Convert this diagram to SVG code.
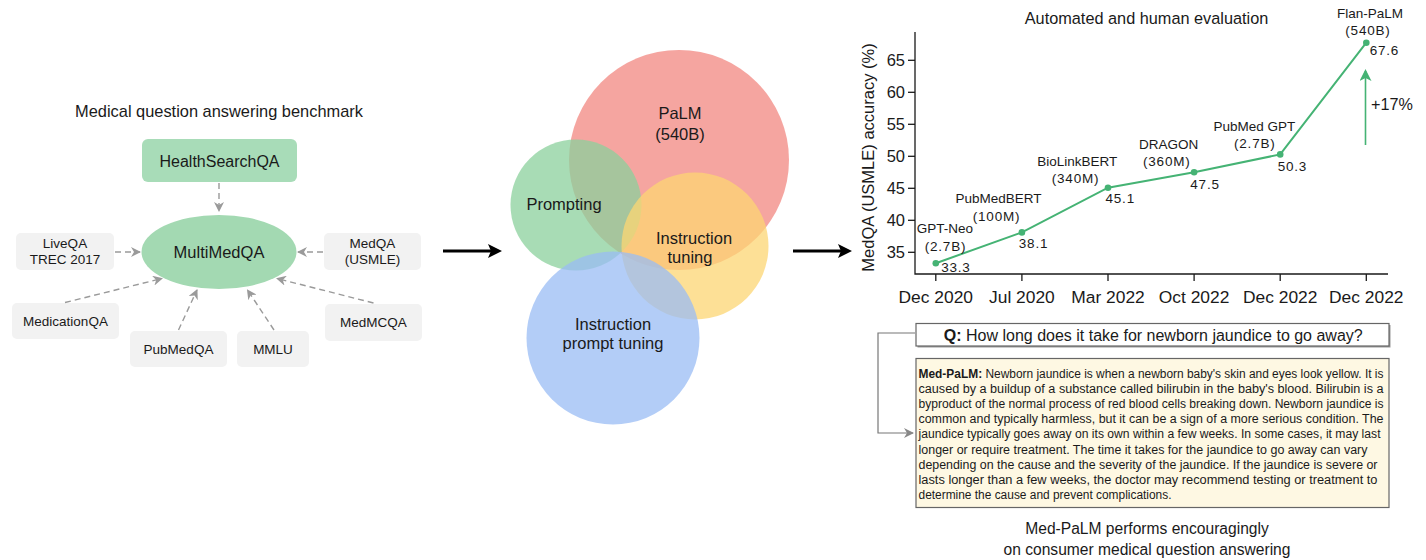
<svg xmlns="http://www.w3.org/2000/svg" width="1426" height="560" viewBox="0 0 1426 560">
<style>
text{font-family:"Liberation Sans",Arial,sans-serif;fill:#1a1a1a}
.gbox{fill:#f2f2f2}
.gl{font-size:13.5px;text-anchor:middle}
.dash{stroke:#9a9a9a;stroke-width:1.4;stroke-dasharray:6 4;fill:none;marker-end:url(#ga)}
.venn{font-size:16.5px;text-anchor:middle}
.ax{stroke:#1a1a1a;stroke-width:1.3;fill:none}
.tl{font-size:16.5px}
.cl{font-size:13.5px;text-anchor:middle}
.num{font-size:13.5px;letter-spacing:0.8px}
.ans{font-size:12px}
</style>
<defs>
<marker id="ga" markerWidth="10" markerHeight="10" refX="9" refY="5" orient="auto" markerUnits="userSpaceOnUse">
<path d="M0,0 L10,5 L0,10 L3,5 z" fill="#9a9a9a"/>
</marker>
<marker id="qa" markerWidth="10" markerHeight="10" refX="9" refY="5" orient="auto" markerUnits="userSpaceOnUse">
<path d="M0,0 L10,5 L0,10 L3,5 z" fill="#888"/>
</marker>
<marker id="gr" markerWidth="12" markerHeight="12" refX="10" refY="6" orient="auto" markerUnits="userSpaceOnUse">
<path d="M0,0 L12,6 L0,12 L3,6 z" fill="#45b374"/>
</marker>
</defs>
<rect width="1426" height="560" fill="#fff"/>

<!-- Left panel -->
<text x="219" y="117" font-size="16.4" text-anchor="middle">Medical question answering benchmark</text>
<g id="healthsearchqa">
<rect x="142" y="139" width="155" height="43" rx="6" fill="#a8dcb8"/>
<text x="219.5" y="166.5" font-size="16" text-anchor="middle">HealthSearchQA</text>
</g>
<g id="multimedqa">
<ellipse cx="219" cy="252" rx="77.5" ry="37" fill="#a3d9b2"/>
<text x="219" y="258" font-size="16.5" text-anchor="middle">MultiMedQA</text>
</g>
<g id="liveqa">
<rect class="gbox" x="16" y="233" width="98" height="37" rx="5"/>
<text class="gl" x="65" y="248">LiveQA</text>
<text class="gl" x="65" y="264">TREC 2017</text>
</g>
<g id="medqa">
<rect class="gbox" x="324" y="233" width="97" height="37" rx="5"/>
<text class="gl" x="372.5" y="248">MedQA</text>
<text class="gl" x="372.5" y="264">(USMLE)</text>
</g>
<g id="medicationqa">
<rect class="gbox" x="12" y="303" width="107" height="36" rx="5"/>
<text class="gl" x="65.5" y="326">MedicationQA</text>
</g>
<g id="pubmedqa">
<rect class="gbox" x="130" y="331" width="97" height="36" rx="5"/>
<text class="gl" x="178.5" y="354">PubMedQA</text>
</g>
<g id="mmlu">
<rect class="gbox" x="237" y="331" width="72" height="36" rx="5"/>
<text class="gl" x="273" y="354">MMLU</text>
</g>
<g id="medmcqa">
<rect class="gbox" x="325" y="304" width="97" height="37" rx="5"/>
<text class="gl" x="373.5" y="327">MedMCQA</text>
</g>
<g id="connectors">
<line class="dash" x1="219" y1="183" x2="219" y2="211"/>
<line class="dash" x1="115" y1="252" x2="140" y2="252"/>
<line class="dash" x1="323" y1="252" x2="298" y2="252"/>
<line class="dash" x1="65" y1="302.5" x2="162" y2="278.5"/>
<line class="dash" x1="178.5" y1="330" x2="197" y2="290"/>
<line class="dash" x1="274" y1="330" x2="247.5" y2="290"/>
<line class="dash" x1="373.5" y1="303" x2="277" y2="278.5"/>
<!-- big arrows -->
<line x1="443" y1="251" x2="492" y2="251" stroke="#000" stroke-width="3"/>
<path d="M488,244 L502,251 L488,258 L491,251 z" fill="#000"/>
<line x1="793" y1="251" x2="842" y2="251" stroke="#000" stroke-width="3"/>
<path d="M838,244 L852,251 L838,258 L841,251 z" fill="#000"/>
<!-- Q to answer -->
<polyline points="915,333 878,333 878,433 913,433" fill="none" stroke="#777" stroke-width="1.2" marker-end="url(#qa)"/>
</g>

<!-- Venn -->
<g id="palm">
<circle cx="679" cy="160" r="110" fill="#f28780" fill-opacity="0.75"/>
</g>
<g id="prompting">
<circle cx="576" cy="205" r="65.5" fill="#8bd09c" fill-opacity="0.75"/>
</g>
<g id="instruction-tuning">
<circle cx="695" cy="246" r="73.5" fill="#fcd673" fill-opacity="0.75"/>
</g>
<g id="instruction-prompt-tuning">
<circle cx="613" cy="338" r="86.5" fill="#9abcf4" fill-opacity="0.75"/>
</g>
<g id="venn-labels">
<text class="venn" x="680" y="119">PaLM</text>
<text class="venn" x="680" y="140">(540B)</text>
<text class="venn" x="564" y="210">Prompting</text>
<text class="venn" x="694" y="243.5">Instruction</text>
<text class="venn" x="690" y="263">tuning</text>
<text class="venn" x="613" y="330">Instruction</text>
<text class="venn" x="613" y="349">prompt tuning</text>
</g>

<!-- Chart -->
<g id="chart">
<text x="1146.5" y="23.5" font-size="16.3" text-anchor="middle">Automated and human evaluation</text>
<text font-size="16.5" transform="translate(874,157.5) rotate(-90)" text-anchor="middle">MedQA (USMLE) accuracy (%)</text>
<polyline class="ax" points="915,32 915,274 1388,274"/>
<g stroke="#1a1a1a" stroke-width="1.3">
<line x1="908" y1="60.3" x2="915" y2="60.3"/>
<line x1="908" y1="92.3" x2="915" y2="92.3"/>
<line x1="908" y1="124.3" x2="915" y2="124.3"/>
<line x1="908" y1="156.3" x2="915" y2="156.3"/>
<line x1="908" y1="188.3" x2="915" y2="188.3"/>
<line x1="908" y1="220.3" x2="915" y2="220.3"/>
<line x1="908" y1="252.3" x2="915" y2="252.3"/>
<line x1="935.8" y1="274" x2="935.8" y2="281"/>
<line x1="1021.9" y1="274" x2="1021.9" y2="281"/>
<line x1="1108" y1="274" x2="1108" y2="281"/>
<line x1="1194.1" y1="274" x2="1194.1" y2="281"/>
<line x1="1280.2" y1="274" x2="1280.2" y2="281"/>
<line x1="1366.3" y1="274" x2="1366.3" y2="281"/>
</g>
<g class="tl" text-anchor="end">
<text x="905" y="66">65</text>
<text x="905" y="98">60</text>
<text x="905" y="130">55</text>
<text x="905" y="162">50</text>
<text x="905" y="194">45</text>
<text x="905" y="226">40</text>
<text x="905" y="258">35</text>
</g>
<g font-size="17.4" text-anchor="middle">
<text x="935.8" y="302.5">Dec 2020</text>
<text x="1021.9" y="302.5">Jul 2020</text>
<text x="1108" y="302.5">Mar 2022</text>
<text x="1194.1" y="302.5">Oct 2022</text>
<text x="1280.2" y="302.5">Dec 2022</text>
<text x="1366.3" y="302.5">Dec 2022</text>
</g>
<polyline points="935.8,263.2 1021.9,232.4 1108,187.7 1194.1,172.3 1280.2,154.4 1366.3,42.7" fill="none" stroke="#45b374" stroke-width="2"/>
<g fill="#45b374">
<circle cx="935.8" cy="263.2" r="3.3"/>
<circle cx="1021.9" cy="232.4" r="3.3"/>
<circle cx="1108" cy="187.7" r="3.3"/>
<circle cx="1194.1" cy="172.3" r="3.3"/>
<circle cx="1280.2" cy="154.4" r="3.3"/>
<circle cx="1366.3" cy="42.7" r="3.3"/>
</g>
<line x1="1365.5" y1="145" x2="1365.5" y2="71" stroke="#45b374" stroke-width="1.6" marker-end="url(#gr)"/>
<text x="1371" y="109.5" font-size="16.2">+17%</text>
<g class="cl">
<text x="945" y="233">GPT-Neo</text>
<text class="num" x="945.5" y="250.5">(2.7B)</text>
<text x="998.4" y="203">PubMedBERT</text>
<text class="num" x="996.5" y="220.5">(100M)</text>
<text x="1077.2" y="166">BioLinkBERT</text>
<text class="num" x="1075.5" y="182.5">(340M)</text>
<text x="1168.7" y="149">DRAGON</text>
<text class="num" x="1166.8" y="166">(360M)</text>
<text x="1254.4" y="130.5">PubMed GPT</text>
<text class="num" x="1254.8" y="147.5">(2.7B)</text>
<text x="1370.1" y="18">Flan-PaLM</text>
<text class="num" x="1368" y="35">(540B)</text>
</g>
<g class="num">
<text x="941.2" y="271.5">33.3</text>
<text x="1018.8" y="248">38.1</text>
<text x="1105.5" y="203">45.1</text>
<text x="1190.3" y="189">47.5</text>
<text x="1277.7" y="170.5">50.3</text>
<text x="1369.7" y="55">67.6</text>
</g>
</g>

<!-- Q/A -->
<g id="question">
<rect x="917.5" y="325" width="473" height="22.5" fill="#999"/>
<rect x="916" y="323.5" width="473" height="22.5" fill="#fff" stroke="#666" stroke-width="1.2"/>
<text x="943.8" y="340.8" font-size="16"><tspan font-weight="bold">Q:</tspan> How long does it take for newborn jaundice to go away?</text>
</g>
<g id="answer">
<rect x="916" y="358.5" width="473" height="149" fill="#fef8e3" stroke="#666" stroke-width="1.2"/>
<g class="ans">
<text x="918.5" y="378" textLength="465" lengthAdjust="spacingAndGlyphs"><tspan font-weight="bold">Med-PaLM:</tspan> Newborn jaundice is when a newborn baby's skin and eyes look yellow. It is</text>
<text x="918.5" y="393.1" textLength="465" lengthAdjust="spacingAndGlyphs">caused by a buildup of a substance called bilirubin in the baby's blood. Bilirubin is a</text>
<text x="918.5" y="408.2" textLength="465" lengthAdjust="spacingAndGlyphs">byproduct of the normal process of red blood cells breaking down. Newborn jaundice is</text>
<text x="918.5" y="423.3" textLength="465" lengthAdjust="spacingAndGlyphs">common and typically harmless, but it can be a sign of a more serious condition. The</text>
<text x="918.5" y="438.4" textLength="462" lengthAdjust="spacingAndGlyphs">jaundice typically goes away on its own within a few weeks. In some cases, it may last</text>
<text x="918.5" y="453.5" textLength="449" lengthAdjust="spacingAndGlyphs">longer or require treatment. The time it takes for the jaundice to go away can vary</text>
<text x="918.5" y="468.6" textLength="459" lengthAdjust="spacingAndGlyphs">depending on the cause and the severity of the jaundice. If the jaundice is severe or</text>
<text x="918.5" y="483.7" textLength="459" lengthAdjust="spacingAndGlyphs">lasts longer than a few weeks, the doctor may recommend testing or treatment to</text>
<text x="918.5" y="498.8" textLength="253" lengthAdjust="spacingAndGlyphs">determine the cause and prevent complications.</text>
</g>
</g>
<text x="1147" y="533.5" font-size="15.6" text-anchor="middle">Med-PaLM performs encouragingly</text>
<text x="1147" y="554.5" font-size="15.6" text-anchor="middle">on consumer medical question answering</text>
</svg>
